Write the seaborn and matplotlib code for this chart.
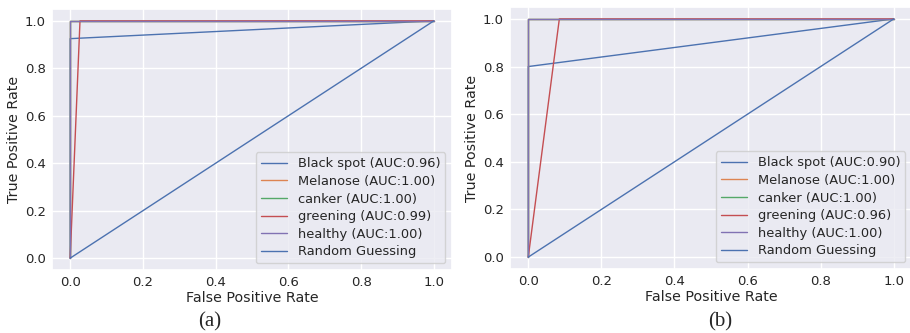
import numpy as np
import pandas as pd
import matplotlib
matplotlib.use("Agg")
import matplotlib.pyplot as plt
import seaborn as sns

sns.set_theme(style="darkgrid")
plt.rcParams['font.family'] = ['DejaVu Sans']

classes = ["Black spot", "Melanose", "canker", "greening", "healthy"]

# Panel (a) ROC curves
a_auc = [0.96, 1.00, 1.00, 0.99, 1.00]
a_fpr = [[0, 0, 1], [0, 0, 1], [0, 0, 1], [0, 0.027, 1], [0, 0, 1]]
a_tpr = [[0, 0.925, 1], [0, 1, 1], [0, 1, 1], [0, 1, 1], [0, 1, 1]]

# Panel (b) ROC curves
b_auc = [0.90, 1.00, 1.00, 0.96, 1.00]
b_fpr = [[0, 0, 1], [0, 0, 1], [0, 0, 1], [0, 0.085, 1], [0, 0, 1]]
b_tpr = [[0, 0.80, 1], [0, 1, 1], [0, 1, 1], [0, 1, 1], [0, 1, 1]]

rand_fpr = [0, 1]
rand_tpr = [0, 1]

deep = sns.color_palette("deep")
colors = [deep[0], deep[1], deep[2], deep[3], deep[4], deep[0]]

W, H = 910, 333
fig = plt.figure(figsize=(W / 100, H / 100), dpi=100)


def panel(rect, aucs, fprs, tprs, caption, cap_x):
    ax = fig.add_axes(rect)
    rows = []
    labels = []
    for k, (c, auc, f, t) in enumerate(zip(classes, aucs, fprs, tprs)):
        lab = f"{c} (AUC:{auc:.2f})"
        labels.append(lab)
        for i, (x, y) in enumerate(zip(f, t)):
            rows.append({"fpr": x, "tpr": y, "curve": lab, "o": i})
    labels.append("Random Guessing")
    for i, (x, y) in enumerate(zip(rand_fpr, rand_tpr)):
        rows.append({"fpr": x, "tpr": y, "curve": "Random Guessing", "o": i})
    df = pd.DataFrame(rows)
    sns.lineplot(data=df, x="fpr", y="tpr", hue="curve", hue_order=labels,
                 palette=colors, sort=False, estimator=None, units="curve",
                 linewidth=1.0, ax=ax)
    ax.set_xlabel("False Positive Rate", fontsize=10.3, labelpad=1.5)
    ax.set_ylabel("True Positive Rate", fontsize=10.3, labelpad=3)
    ax.set_xticks([0, 0.2, 0.4, 0.6, 0.8, 1.0])
    ax.set_yticks([0, 0.2, 0.4, 0.6, 0.8, 1.0])
    ax.tick_params(axis="both", labelsize=9.5, length=0)
    ax.tick_params(axis="x", pad=4)
    ax.tick_params(axis="y", pad=4.5)
    ax.set_xlim(-0.05, 1.05)
    ax.set_ylim(-0.05, 1.05)
    leg = ax.legend(loc="lower right", fontsize=9.4, title=None,
                    handlelength=2.0, borderpad=0.4, labelspacing=0.35)
    for line in leg.get_lines():
        line.set_linewidth(1.0)
    fig.text(cap_x / W, 1 - 322 / H, caption, ha="center", va="center",
             fontsize=15, family="Liberation Serif")
    return ax


panel([52 / W, 1 - 270 / H, 400 / W, 261 / H], a_auc, a_fpr, a_tpr, "(a)", 210)
panel([510 / W, 1 - 269 / H, 402 / W, 262 / H], b_auc, b_fpr, b_tpr, "(b)", 720)

fig.savefig("out.png", dpi=100)
